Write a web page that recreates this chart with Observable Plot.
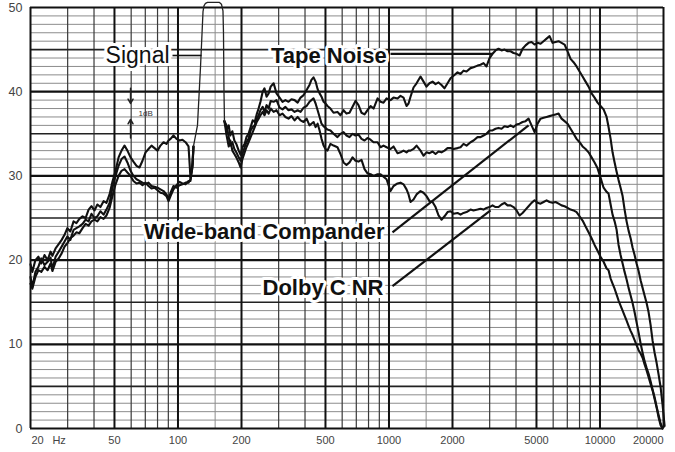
<!DOCTYPE html>
<html><head><meta charset="utf-8">
<script src="https://cdn.jsdelivr.net/npm/d3@7"></script>
<script src="https://cdn.jsdelivr.net/npm/@observablehq/plot@0.6"></script>
<style>html,body{margin:0;padding:0;background:#fff;}</style>
</head><body><div id="chart"></div>
<script>
// Frequencies (Hz) below the test signal
const freqLow = [20.0,20.4,21.1,21.8,22.5,23.3,24.1,24.9, 25.4,26.3,27.2,28.1,29.0,29.9,30.9,
 32.0,33.0,34.1,35.3,36.5,37.7,38.9,40.2,41.5,42.9, 44.4,45.8,47.4,48.9,50.6,52.3,54.0,55.8,57.6,59.6,
 61.5,63.6,65.7,67.9,70.2,72.5,74.9,77.4,80.0,82.6, 85.4,88.2,90.2,92.2,95.2,98.4,101.7,105.0,108.6,112.2,
 114.6,117.2,118.4];
const tapeLow = [19.5,18.6,20.0,20.4,19.6,20.6,20.0,21.0, 20.5,21.4,21.9,22.4,23.0,23.8,23.4,
 24.6,24.4,24.9,25.2,25.0,26.0,26.4,25.9,26.6,26.3, 27.0,26.8,27.8,29.3,30.6,32.2,33.0,33.6,33.0,32.2,
 31.7,31.2,31.0,31.8,32.8,33.2,33.6,33.3,33.0,33.6, 34.0,33.8,34.2,34.4,34.8,34.4,34.2,34.3,34.0,33.5,
 29.8,31.0,33.5];
const companderLow = [18.0,16.8,18.6,19.2,20.2,19.4,19.8,20.3, 18.9,20.4,21.0,21.6,22.2,22.8,22.4,
 23.6,23.8,24.0,24.3,24.8,24.6,25.5,25.0,25.2,25.8, 25.4,26.0,26.8,28.6,30.0,31.2,32.0,32.3,31.6,30.6,
 30.0,29.6,29.4,29.2,29.0,29.2,28.8,28.7,28.6,28.4, 28.2,27.8,27.2,28.0,28.8,28.6,28.9,29.0,29.2,29.2,
 29.6,31.5,33.5];
const dolbyLow = [17.2,16.6,18.0,18.8,18.6,19.2,18.8,19.6, 18.7,19.8,20.2,20.8,21.6,22.0,22.6,
 22.9,23.3,23.2,23.8,24.3,24.1,24.6,24.8,24.6,25.1, 24.9,25.3,26.2,27.6,29.0,30.0,30.6,30.8,30.4,30.0,
 29.4,29.1,29.2,28.9,29.2,28.8,28.5,28.6,28.3,28.0, 27.9,27.6,27.0,27.6,28.4,28.9,29.3,29.1,29.0,29.4,
 29.4,31.5,33.5];

// Test signal peak
const signalFreq = [118.4,123.7,127.9,131.4,132.8,135.0,138.0,157.3,160.7,163.4,164.3,165.2,166.1];
const signalLevel = [33.5,36.0,43.0,49.5,50.2,50.5,50.6,50.6,50.4,49.6,47.0,40.0,36.5];

// Frequencies (Hz) above the test signal
const freqHigh = [166,170,174,177,181,185,189,194,198,202,
 207,211,216,221,226,231,236,241,246,252,
 257,263,269,275,284,293,303,313,323,334,
 345,357,369,381,394,407,420,429,439,449,
 459,469,479,490,500,511,528,546,570,589,
 609,629,650,672,694,717,741,766,791,818,
 845,883,912,942,974,1017,1051,1098,1134,1172,
 1211,1238,1265,1307,1351,1411,1458,1506,1556,1609,
 1662,1717,1774,1833,1895,1958,2023,2113,2183,2256,
 2331,2435,2516,2629,2716,2806,2899,2996,3096,3199,
 3305,3416,3530,3647,3768,3893,4024,4158,4296,4439,
 4587,4739,4897,5060,5228,5402,5583,5768,5960,6158,
 6363,6575,6794,7021,7254,7495,7745,8003,8270,8545,
 8829,9123,9427,9740,10060,10400,10750,10980,11230,11470,
 11730,11990,12250,12520,12800,13080,13370,13660,13970,14270,
 14590,14910,15240,15580,15920,16270,16630,17000,17370,17760,
 18150,18550,18960,19380,19800,20240];
const tapeHigh = [36.5,35.5,36.0,34.8,35.3,34.2,33.8,33.0,32.5,33.4,
 33.8,34.6,35.0,35.8,36.6,36.4,37.3,38.0,38.8,40.0,
 40.4,39.4,39.8,40.6,41.0,39.8,39.3,38.8,39.0,38.8,
 39.1,39.0,38.7,39.3,39.6,40.2,40.8,41.4,41.7,41.2,
 40.3,39.8,39.4,38.8,38.6,38.3,38.0,37.5,37.6,37.2,
 37.8,37.4,37.5,38.2,38.9,38.4,37.5,37.3,37.8,38.3,
 38.0,39.2,38.8,38.7,39.2,39.0,39.3,39.2,39.5,39.3,
 38.3,38.6,39.4,40.5,41.0,41.8,41.2,40.6,41.0,41.2,
 40.9,41.1,40.8,40.4,41.0,41.6,41.9,42.3,42.1,42.5,
 42.4,42.8,42.9,43.1,43.2,43.4,43.0,44.0,44.5,44.9,
 45.1,44.9,45.0,44.8,44.8,44.6,44.5,44.3,45.1,45.5,
 45.8,45.9,45.6,45.8,45.7,46.0,46.3,46.6,45.8,45.9,
 46.0,45.8,45.6,44.8,43.9,43.5,43.0,42.4,41.8,41.2,
 40.6,39.8,39.3,38.7,38.3,37.9,37.0,35.8,34.4,32.8,
 31.6,30.5,29.5,28.6,27.6,26.0,24.6,23.5,22.6,21.5,
 20.6,19.6,18.7,17.6,16.7,15.8,14.9,13.8,12.3,10.4,
 9.0,7.8,6.4,4.9,2.8,0.3];
const companderHigh = [36.5,36.0,34.6,33.6,34.0,33.2,32.8,32.2,31.8,32.6,
 33.4,34.0,34.4,35.4,35.8,36.0,36.8,37.2,37.8,38.2,
 37.6,38.4,38.0,38.9,38.8,39.0,38.1,37.9,38.2,37.8,
 37.9,37.6,37.8,37.6,38.1,38.3,38.8,39.0,39.2,38.6,
 37.8,37.0,36.2,35.9,35.7,35.5,35.4,35.0,34.6,35.0,
 35.2,34.8,34.6,35.0,34.8,34.9,34.4,34.2,34.5,34.3,
 34.0,34.0,33.4,33.6,33.4,33.2,33.5,32.7,32.8,33.0,
 32.8,33.0,33.0,33.2,33.6,33.0,32.4,32.8,32.7,32.9,
 32.6,32.9,32.8,33.0,33.3,33.3,33.2,33.3,33.4,33.8,
 33.6,34.0,34.2,34.6,34.6,34.8,35.0,35.4,35.4,35.6,
 35.7,35.6,35.9,35.8,36.0,35.8,36.1,36.2,36.4,36.5,
 36.8,36.0,35.2,36.2,36.8,36.9,37.0,37.1,37.2,37.3,
 37.4,36.8,36.5,36.2,35.6,35.0,34.4,34.0,33.5,33.2,
 32.8,32.2,31.6,30.9,29.8,28.6,28.1,27.9,26.6,25.4,
 24.6,23.6,21.8,20.6,19.6,18.6,17.7,16.7,15.8,14.9,
 13.8,12.6,11.4,10.1,9.0,8.0,7.2,6.5,5.6,4.6,
 3.7,2.6,1.6,0.6,0.0,null];
const dolbyHigh = [36.5,34.8,33.5,34.2,33.0,32.6,32.2,31.6,31.0,32.0,
 32.8,33.4,34.0,34.6,35.2,35.8,36.4,36.8,37.2,37.6,
 37.2,37.8,37.4,38.0,37.6,37.8,37.2,37.4,37.0,36.8,
 37.1,36.6,37.0,36.6,36.4,36.8,36.0,36.2,36.4,35.8,
 36.2,35.4,34.4,33.6,33.2,33.0,33.8,33.6,33.4,32.6,
 31.6,31.3,31.6,32.2,31.8,31.7,31.9,30.8,30.3,30.2,
 30.0,30.2,30.2,29.9,29.6,28.2,28.8,29.1,29.2,29.0,
 28.4,27.8,26.9,27.2,27.8,28.2,28.0,27.6,27.0,26.9,
 26.3,25.3,24.8,25.2,25.7,25.8,25.5,25.6,25.4,25.6,
 25.7,26.0,25.9,26.0,26.1,26.0,26.2,26.3,26.5,26.3,
 26.3,26.6,26.8,26.5,26.5,26.3,25.9,25.3,25.6,26.0,
 26.4,26.8,27.1,26.8,26.7,26.9,27.1,26.9,26.8,26.9,
 26.7,26.5,26.4,26.2,26.0,25.9,25.7,25.2,24.7,24.0,
 23.3,22.6,21.8,21.1,20.4,19.8,19.0,18.8,17.8,17.2,
 16.6,15.9,15.2,14.6,14.0,13.4,12.8,12.2,11.6,11.1,
 10.5,9.9,9.3,8.9,8.4,7.6,6.9,6.1,5.3,4.5,
 3.5,2.5,1.3,0.4,0.0,null];

// Chart paper grid and tick labels
const freqMajor = [20,50,100,200,500,1000,2000,5000,10000,20000];
const freqMinor = [30,40,60,70,80,90,300,400,600,700,800,900,3000,4000,6000,7000,8000,9000];
const freqHalf = [150,1500,15000];
const dbTicks = [0,10,20,30,40,50];
const dbFive = [5,15,25,35,45];
const dbOne = d3.range(0, 51).filter(d => d % 5 !== 0);
const xTickLabels = [50,100,200,500,1000,2000,5000,10000];

const rows = [];
function add(seg, freqs, levels) {
  freqs.forEach((f, i) => rows.push({seg, freq: f, level: levels[i]}));
}
add("tapeLow", freqLow, tapeLow);
add("compLow", freqLow, companderLow);
add("dolbyLow", freqLow, dolbyLow);
add("tapeHigh", freqHigh, tapeHigh);
add("compHigh", freqHigh, companderHigh);
add("dolbyHigh", freqHigh, dolbyHigh);
const signal = signalFreq.map((f, i) => ({freq: f, level: signalLevel[i]}));

// Annotations (data coordinates)
const boldLabels = [
  {text: "Tape Noise", freq: 975, level: 44.3},
  {text: "Wide-band Compander", freq: 953, level: 23.4},
  {text: "Dolby C NR", freq: 942, level: 16.75}
];
const leaders = [
  {x1: 94.2, y1: 44.3, x2: 129.3, y2: 44.3, w: 1.6},
  {x1: 1017, y1: 44.5, x2: 3096, y2: 44.5, w: 2.2},
  {x1: 1039, y1: 23.3, x2: 4587, y2: 36.0, w: 2.2},
  {x1: 1039, y1: 16.9, x2: 3029, y2: 25.9, w: 2.2}
];
const font = "'Liberation Sans', Arial, Helvetica, sans-serif";

const chart = Plot.plot({
  width: 675, height: 452,
  marginLeft: 30, marginRight: 12, marginTop: 7, marginBottom: 24,
  x: {type: "log", domain: [20, 20000], axis: null},
  y: {domain: [0, 50], axis: null},
  style: {fontFamily: font, background: "#fff", overflow: "visible"},
  marks: [
    Plot.ruleY(dbOne, {stroke: "#8c8c8c", strokeWidth: 1}),
    Plot.ruleX(freqHalf, {stroke: "#8c8c8c", strokeWidth: 1}),
    Plot.ruleX(freqMinor, {stroke: "#3a3a3a", strokeWidth: 1.2}),
    Plot.ruleY(dbFive, {stroke: "#222", strokeWidth: 1.6}),
    Plot.ruleY(dbTicks, {stroke: "#111", strokeWidth: 2.2}),
    Plot.ruleX(freqMajor, {stroke: "#111", strokeWidth: 2}),
    Plot.line(rows, {x: "freq", y: "level", z: "seg", stroke: "#111", strokeWidth: 2.1, strokeLinejoin: "round"}),
    Plot.line(signal, {x: "freq", y: "level", stroke: "#222", strokeWidth: 1.3, strokeLinejoin: "round"}),
    Plot.link(leaders, {x1: "x1", y1: "y1", x2: "x2", y2: "y2", stroke: "#111", strokeWidth: d => d.w}),
    Plot.text(["Signal"], {x: 91.2, y: 44.3, text: d => d, textAnchor: "end",
      fontSize: 23, fill: "#111", stroke: "white", strokeWidth: 6}),
    Plot.text(boldLabels, {x: "freq", y: "level", text: "text", textAnchor: "end",
      fontWeight: "bold", fontSize: 22, fill: "#111", stroke: "white", strokeWidth: 6}),
    Plot.arrow([{x1: 59.6, y1: 40.4, x2: 59.6, y2: 38.6}, {x1: 59.6, y1: 34.5, x2: 59.6, y2: 36.7}],
      {x1: "x1", y1: "y1", x2: "x2", y2: "y2", stroke: "#222", strokeWidth: 1.5, headLength: 5, headAngle: 60}),
    Plot.text(["1dB"], {x: 65, y: 37.4, text: d => d, textAnchor: "start", fontSize: 8, fill: "#333"}),
    Plot.text(dbTicks, {x: 20, y: d => d, text: d => String(d), dx: -8, textAnchor: "end", fontSize: 12.5, fill: "#444"}),
    Plot.text(xTickLabels, {x: d => d, y: 0, text: d => String(d), dy: 12, fontSize: 11, fill: "#444"}),
    Plot.text([20], {x: d => d, y: 0, text: d => String(d), dy: 12, dx: 1, textAnchor: "start", fontSize: 11, fill: "#444"}),
    Plot.text(["Hz"], {x: 25.4, y: 0, text: d => d, dy: 12, textAnchor: "start", fontSize: 11, fill: "#444"}),
    Plot.text([20000], {x: d => d, y: 0, text: d => String(d), dy: 12, textAnchor: "end", fontSize: 11, fill: "#444"})
  ]
});
document.getElementById("chart").appendChild(chart);
</script>
</body></html>
